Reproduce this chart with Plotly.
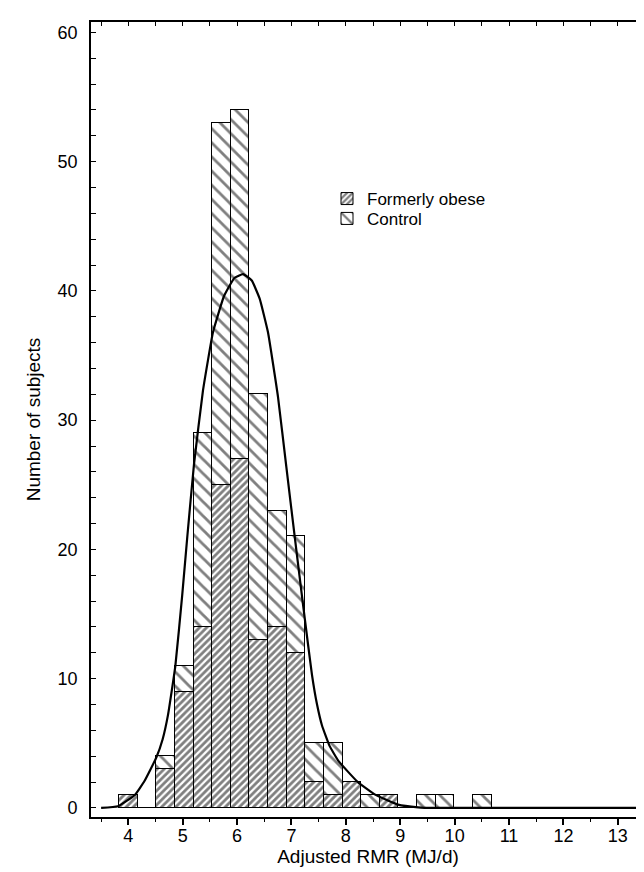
import plotly.graph_objects as go

# ---- data ----
bin_start = 3.83          # left edge of first bin (MJ/d)
bin_width = 0.3425        # bin width (MJ/d)
formerly_obese = [1, 0, 3, 9, 14, 25, 27, 13, 14, 12, 2, 1, 2, 0, 1, 0, 0, 0, 0, 0]
control =        [0, 0, 1, 2, 15, 28, 27, 19, 9, 9, 3, 4, 0, 1, 0, 0, 1, 1, 0, 1]

# fitted curve, points
curve_x = [3.50, 3.81, 4.12, 4.30, 4.515, 4.63, 4.73, 4.865, 4.99, 5.085, 5.208, 5.373,
           5.557, 5.76, 5.95, 6.11, 6.27, 6.415, 6.568, 6.752, 6.905, 7.059, 7.21,
           7.30, 7.377, 7.47, 7.56, 7.70, 7.87, 8.22, 8.53, 8.96, 9.33, 9.6, 13.5]
curve_y = [0.0, 0.13, 1.0, 2.1, 3.9, 5.3, 7.2, 11.0, 16.4, 21.0, 26.6, 32.3,
           36.8, 39.6, 41.0, 41.3, 40.8, 39.4, 36.8, 31.8, 26.4, 21.0, 15.8,
           12.8, 10.3, 8.0, 6.4, 4.8, 3.6, 2.0, 1.05, 0.26, 0.05, 0.0, 0.0]

x_range = [3.314, 13.5]
y_range = [-0.7, 60.8]

bin_centers = [bin_start + (i + 0.5) * bin_width for i in range(len(formerly_obese))]

FONT = "Liberation Sans, Arial, Helvetica, sans-serif"

fig = go.Figure()
fig.add_trace(go.Bar(
    x=bin_centers, y=formerly_obese, width=bin_width, name="Formerly obese",
    legend="legend",
    marker=dict(color="white", line=dict(color="black", width=1),
                pattern=dict(shape="/", size=5, solidity=0.55,
                             fgcolor="black", bgcolor="white")),
))
fig.add_trace(go.Bar(
    x=bin_centers, y=control, width=bin_width, name="Control",
    legend="legend2",
    marker=dict(color="white", line=dict(color="black", width=1),
                pattern=dict(shape="\\", size=10, solidity=0.28,
                             fgcolor="black", bgcolor="white")),
))
fig.add_trace(go.Scatter(
    x=curve_x, y=curve_y, mode="lines",
    line=dict(color="black", width=2.2, shape="spline", smoothing=0.35),
    showlegend=False, hoverinfo="skip",
))
# helper trace so the top / right tick axes are drawn
fig.add_trace(go.Scatter(
    x=[x_range[1]], y=[0], xaxis="x2", yaxis="y2", mode="markers",
    marker=dict(opacity=0), showlegend=False, hoverinfo="skip",
))

legend_common = dict(xanchor="left", yanchor="top", bgcolor="rgba(0,0,0,0)",
                     font=dict(size=17), itemwidth=30, borderwidth=0)

fig.update_layout(
    width=644, height=872,
    margin=dict(l=83, r=7, t=14, b=63),
    paper_bgcolor="white", plot_bgcolor="white",
    barmode="stack", bargap=0,
    font=dict(family=FONT, color="black", size=18),
    showlegend=True,
    legend=dict(x=0.426, y=0.80, **legend_common),
    legend2=dict(x=0.426, y=0.775, **legend_common),
    xaxis=dict(range=x_range, showgrid=False, zeroline=False,
               showline=True, linecolor="black", linewidth=1.5,
               tickmode="array", tickvals=list(range(4, 14)),
               ticks="outside", ticklen=6, tickwidth=1.5, tickcolor="black",
               tickfont=dict(size=18), ticklabelstandoff=-4,
               minor=dict(dtick=0.5, tick0=0, ticks="outside", ticklen=3, tickwidth=1, tickcolor="black"),
               title=dict(text="Adjusted RMR (MJ/d)", font=dict(size=19), standoff=2)),
    yaxis=dict(range=y_range, showgrid=False, zeroline=False,
               showline=True, linecolor="black", linewidth=1.8,
               tickmode="array", tickvals=[0, 10, 20, 30, 40, 50, 60],
               ticks="inside", ticklen=5, tickwidth=1.2, tickcolor="black",
               tickfont=dict(size=18), ticklabelstandoff=8,
               minor=dict(dtick=2, tick0=0, ticks="inside", ticklen=5, tickwidth=1, tickcolor="black"),
               title=dict(text="Number of subjects", font=dict(size=19), standoff=12)),
    xaxis2=dict(range=x_range, overlaying="x", side="top", anchor="y2",
                showgrid=False, zeroline=False, showline=True, linecolor="black", linewidth=1.5,
                dtick=0.5, tick0=0, ticks="inside", ticklen=4, tickwidth=1.2, tickcolor="black",
                showticklabels=False),
    yaxis2=dict(range=y_range, overlaying="y", side="right", anchor="x2",
                showgrid=False, zeroline=False, showline=False,
                dtick=2, tick0=0, ticks="inside", ticklen=3, tickwidth=1, tickcolor="#444",
                showticklabels=False),
)

fig.write_html("out.html")
